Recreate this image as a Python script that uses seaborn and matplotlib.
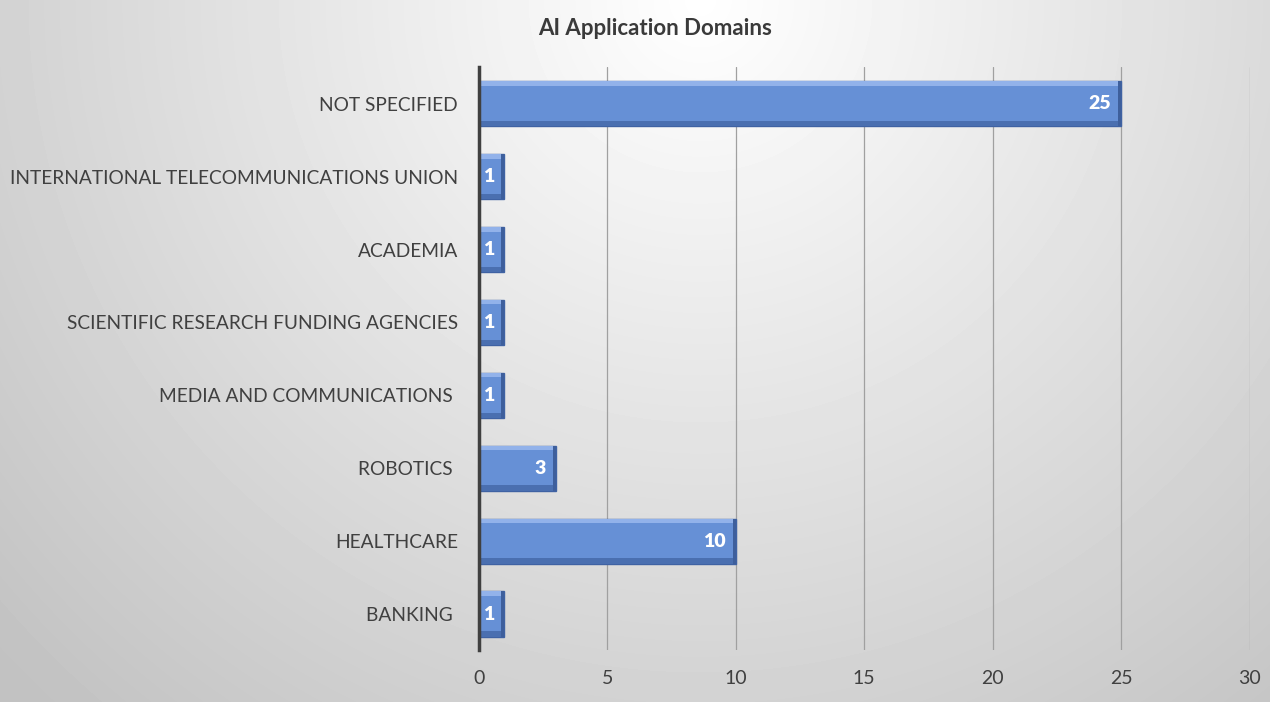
import numpy as np
import pandas as pd
import matplotlib
matplotlib.use("Agg")
import matplotlib.pyplot as plt
import seaborn as sns

categories = ["NOT SPECIFIED", "INTERNATIONAL TELECOMMUNICATIONS UNION", "ACADEMIA",
              "SCIENTIFIC RESEARCH FUNDING AGENCIES", "MEDIA AND COMMUNICATIONS ",
              "ROBOTICS ", "HEALTHCARE", "BANKING "]
counts = [25, 1, 1, 1, 1, 3, 10, 1]
x_ticks = [0, 5, 10, 15, 20, 25, 30]
title = "AI Application Domains"

sns.set_theme(style="white")
plt.rcParams['font.family'] = ['Lato', 'DejaVu Sans']

df = pd.DataFrame({"domain": categories, "count": counts})

fig = plt.figure(figsize=(12.7, 7.02), dpi=100)

# background radial gradient
bg = fig.add_axes([0, 0, 1, 1], zorder=-10)
yy, xx = np.mgrid[0:702, 0:1270]
d = np.sqrt(((xx - 700) / 1000.0) ** 2 + ((yy - 0) / 1000.0) ** 2)
val = np.clip(1.0 - 0.25 * d, 0.76, 1.0)
bg.imshow(val, cmap="gray", vmin=0, vmax=1, aspect="auto", extent=[0, 1, 0, 1])
bg.axis("off")

ax = fig.add_axes([0.377, 0.0734, 0.607, 0.8306])
ax.patch.set_alpha(0)
sns.barplot(data=df, y="domain", x="count", orient="h", color="#6690D6",
            width=0.62, saturation=1, edgecolor="#3F62A3", linewidth=1.0, ax=ax, zorder=3)

# bevel highlights derived from the drawn bars
for p in ax.patches:
    x0, y0 = p.get_x(), p.get_y()
    w, h = p.get_width(), p.get_height()
    ax.fill_between([x0, x0 + w], y0, y0 + h * 0.10, color="#92B2EA", zorder=4, lw=0)
    ax.fill_between([x0, x0 + w], y0 + h * 0.88, y0 + h, color="#4A6FB0", zorder=4, lw=0)
    ax.fill_betweenx([y0, y0 + h], x0 + w - 0.12, x0 + w, color="#3E5F9C", zorder=4, lw=0)

for c in ax.containers:
    texts = ax.bar_label(c, labels=[str(v) for v in counts], padding=-7, color="white",
                         fontsize=14, fontweight="heavy", zorder=6)
    for t in texts:
        t.set_ha("right")

ax.set_xlim(0, 30)
ax.set_ylim(7.5, -0.5)
ax.set_xticks(x_ticks)
ax.set_xticklabels([str(t) for t in x_ticks], fontsize=14, color="#404040")
ax.tick_params(axis="y", labelsize=13.8, labelcolor="#404040", length=0, pad=15)
ax.tick_params(axis="x", length=0, pad=14)
ax.set_xlabel("")
ax.set_ylabel("")
ax.xaxis.grid(True, color="#A0A0A0", linewidth=0.9, zorder=0)
ax.set_axisbelow(True)
for s in ["top", "right", "bottom"]:
    ax.spines[s].set_visible(False)
ax.spines["left"].set_color("#404040")
ax.spines["left"].set_linewidth(2.5)
ax.spines["left"].set_zorder(7)

fig.text(0.516, 0.96, title, ha="center", va="center", fontsize=16,
         fontweight="bold", color="#3A3A3A")

fig.savefig("out.png", dpi=100)
